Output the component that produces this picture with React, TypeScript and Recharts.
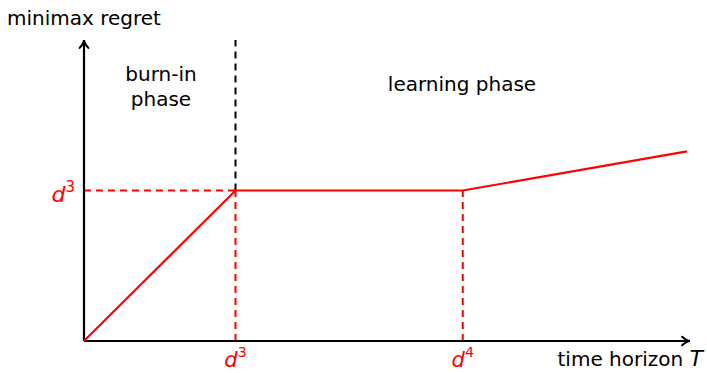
import React from "react";
import { LineChart, Line, XAxis, YAxis, ReferenceLine } from "recharts";

// regret curve: linear burn-in, flat plateau, then slow growth
const horizon = [0, 1, 2.5, 3.98];
const regret = [0, 1, 1, 1.26];

const burnInEnd = 1; // d^3
const learningKnee = 2.5; // d^4
const plateau = 1; // d^3

const xTicks = [
  { value: burnInEnd, base: "d", exp: "3" },
  { value: learningKnee, base: "d", exp: "4" },
];
const yTicks = [{ value: plateau, base: "d", exp: "3" }];

const data = horizon.map((t, i) => ({ t, regret: regret[i] }));

const RED = "#ff0000";
const FONT = "'DejaVu Sans', sans-serif";
const DASH = "7 5";

function Power({ x, y, base, exp, anchor, size = 22 }: any) {
  return (
    <text x={x} y={y} fill={RED} fontFamily={FONT} fontSize={size} textAnchor={anchor}>
      <tspan fontStyle="italic">{base}</tspan>
      <tspan dy={-10} fontSize={size * 0.68}>
        {exp}
      </tspan>
    </text>
  );
}

function XTick(props: any) {
  const { x, y, payload } = props;
  const t = xTicks.find((d) => d.value === payload.value);
  if (!t) return <g />;
  return <Power x={x} y={y + 26} base={t.base} exp={t.exp} anchor="middle" size={21} />;
}

function YTick(props: any) {
  const { x, y, payload } = props;
  const t = yTicks.find((d) => d.value === payload.value);
  if (!t) return <g />;
  return <Power x={x - 9} y={y + 11} base={t.base} exp={t.exp} anchor="end" />;
}

// axis line with an open arrow head at its far end
function ArrowLine(props: any) {
  const { x1, y1, x2, y2 } = props;
  const ang = Math.atan2(y2 - y1, x2 - x1);
  const len = 9;
  const spread = 0.5;
  const ax = x2 - len * Math.cos(ang - spread);
  const ay = y2 - len * Math.sin(ang - spread);
  const bx = x2 - len * Math.cos(ang + spread);
  const by = y2 - len * Math.sin(ang + spread);
  const cx = x2 - 3 * Math.cos(ang);
  const cy = y2 - 3 * Math.sin(ang);
  return (
    <g>
      <line x1={x1} y1={y1} x2={x2} y2={y2} stroke="#000" strokeWidth={2.2} />
      <path
        d={`M${ax},${ay} Q${cx},${cy} ${x2},${y2} Q${cx},${cy} ${bx},${by}`}
        fill="none"
        stroke="#000"
        strokeWidth={2}
        strokeLinecap="round"
      />
    </g>
  );
}

export default function App() {
  return (
    <div style={{ position: "absolute", left: 0, top: 0, width: 707, height: 373, background: "#fff" }}>
      <LineChart
        width={707}
        height={373}
        data={data}
        margin={{ top: 40, right: 17, bottom: 31, left: 83 }}
      >
        <XAxis
          type="number"
          dataKey="t"
          domain={[0, 4]}
          ticks={xTicks.map((d) => d.value)}
          axisLine={false}
          tickLine={false}
          tickSize={0}
          tickMargin={0}
          height={1}
          tick={XTick}
          interval={0}
        />
        <YAxis
          type="number"
          domain={[0, 2]}
          ticks={yTicks.map((d) => d.value)}
          axisLine={false}
          tickLine={false}
          tickSize={0}
          tickMargin={0}
          width={1}
          tick={YTick}
          interval={0}
        />
        <ReferenceLine
          segment={[{ x: 0, y: plateau }, { x: burnInEnd, y: plateau }]}
          stroke={RED}
          strokeWidth={2}
          strokeDasharray={DASH}
          ifOverflow="visible"
        />
        <ReferenceLine
          segment={[{ x: burnInEnd, y: 0 }, { x: burnInEnd, y: plateau }]}
          stroke={RED}
          strokeWidth={2}
          strokeDasharray={DASH}
          ifOverflow="visible"
        />
        <ReferenceLine
          segment={[{ x: learningKnee, y: 0 }, { x: learningKnee, y: plateau }]}
          stroke={RED}
          strokeWidth={2}
          strokeDasharray={DASH}
          ifOverflow="visible"
        />
        <ReferenceLine
          segment={[{ x: burnInEnd, y: plateau }, { x: burnInEnd, y: 2 }]}
          stroke="#000"
          strokeWidth={2}
          strokeDasharray={DASH}
          ifOverflow="visible"
        />
        <ReferenceLine
          segment={[{ x: 0, y: 0 }, { x: 4, y: 0 }]}
          ifOverflow="visible"
          shape={(p: any) => <ArrowLine {...p} />}
        />
        <ReferenceLine
          segment={[{ x: 0, y: 0 }, { x: 0, y: 2 }]}
          ifOverflow="visible"
          shape={(p: any) => <ArrowLine {...p} />}
        />
        <Line
          type="linear"
          dataKey="regret"
          stroke={RED}
          strokeWidth={2.2}
          dot={false}
          activeDot={false}
          isAnimationActive={false}
        />
      </LineChart>
      <svg
        width={707}
        height={373}
        style={{ position: "absolute", left: 0, top: 0, pointerEvents: "none" }}
        fontFamily={FONT}
        fontSize={20}
        fill="#000"
      >
        <text x={7} y={25}>minimax regret</text>
        <text x={161} y={81} textAnchor="middle">burn-in</text>
        <text x={161} y={106} textAnchor="middle">phase</text>
        <text x={462} y={91} textAnchor="middle">learning phase</text>
        <text x={703} y={366} textAnchor="end">
          time horizon <tspan fontStyle="italic" fontSize={22}>T</tspan>
        </text>
      </svg>
    </div>
  );
}
